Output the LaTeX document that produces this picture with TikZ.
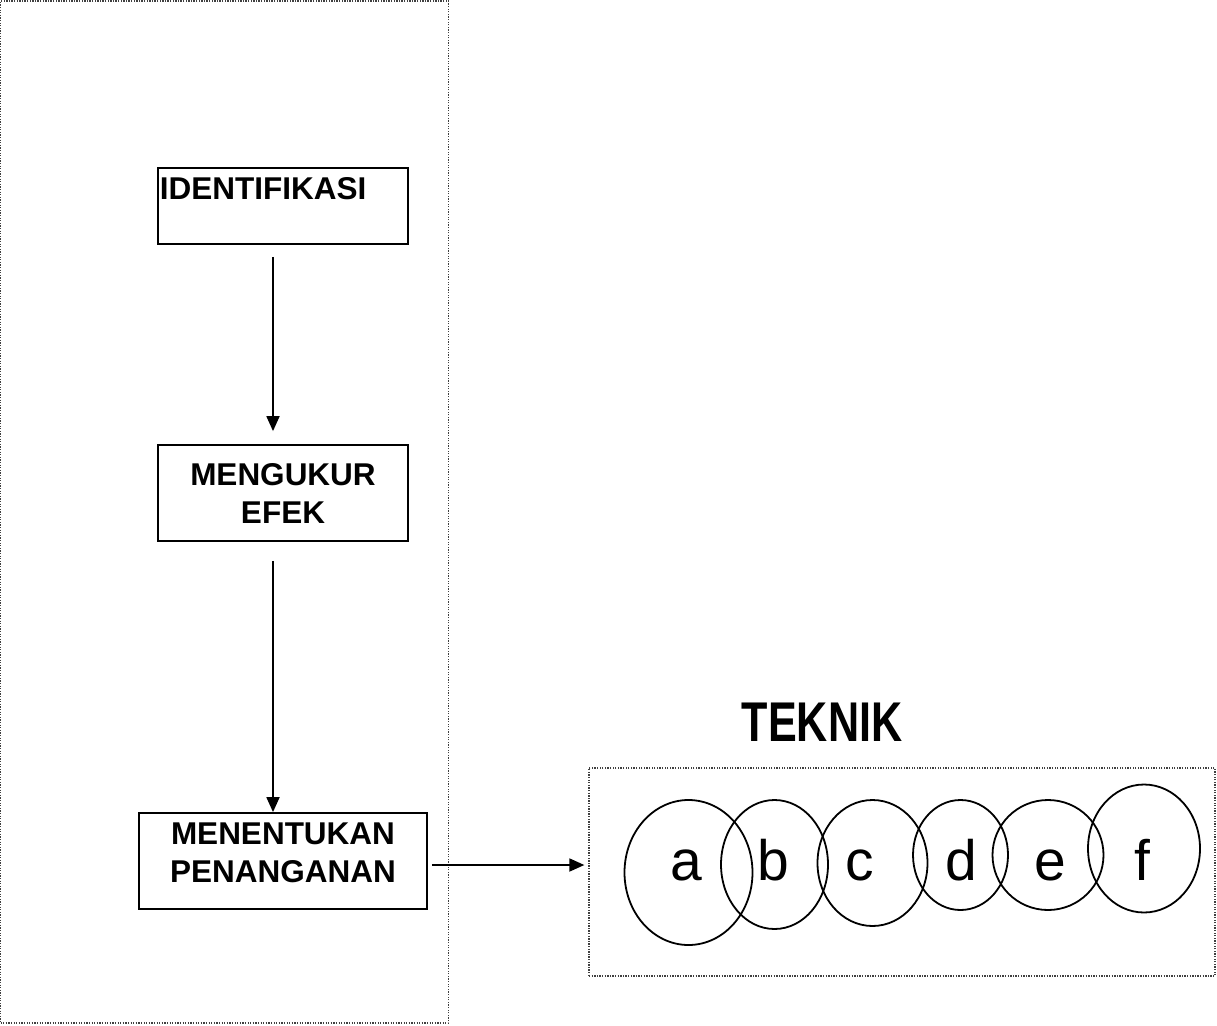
\documentclass[tikz,border=0pt]{standalone}
\usepackage{fontspec}
\usepackage{graphicx}
\setmainfont{Liberation Sans}
\usetikzlibrary{arrows.meta,shapes.geometric}
\begin{document}
\begin{tikzpicture}[x=1pt,y=-1pt,
  box/.style={draw, line width=1.8pt, inner sep=0pt},
  frame/.style={draw=black!75, line width=1.3pt, dash pattern=on 1.3pt off 1.3pt, inner sep=0pt},
  lbl/.style={font=\fontsize{31.5}{38}\selectfont\bfseries, align=center, inner sep=0pt},
  conn/.style={line width=1.8pt, -{Triangle[length=15pt,width=13pt]}},
  oval/.style={draw, ellipse, line width=1.8pt, inner sep=0pt},
  letter/.style={font=\fontsize{57}{60}\selectfont, inner sep=0pt, anchor=base}]
\useasboundingbox (0,0) rectangle (1217,1025);
% frames
\node[frame, minimum width=448pt, minimum height=1022pt] (left) at (224.5,512) {};
\node[frame, minimum width=626pt, minimum height=208pt] (tek) at (902,872) {};
% boxes
\node[box, minimum width=250pt, minimum height=76pt] (m1) at (283,206) {};
\node[lbl, anchor=north west] (t1) at ([xshift=2.5pt,yshift=-10pt]m1.north west) {IDENTIFIKASI};
\node[box, lbl, minimum width=250pt, minimum height=96pt] (m2) at (283,493) {MENGUKUR\\EFEK};
\node[box, minimum width=288pt, minimum height=96pt] (m3) at (283,861) {};
\node[lbl] (t3) at (283,852.5) {MENENTUKAN\\PENANGANAN};
% connectors
\draw[conn, shorten <=12pt, shorten >=13pt] ([xshift=-10pt]m1.south) -- ([xshift=-10pt]m2.north);
\draw[conn, shorten <=19pt] ([xshift=-10pt]m2.south) -- ([xshift=-10pt]m3.north);
\draw[conn, shorten <=4pt, shorten >=4pt] ([yshift=-4pt]m3.east) -- ([yshift=-4pt]m3.east -| tek.west);
% title
\node[font=\fontsize{56}{60}\selectfont\bfseries, inner sep=0pt] (title) at (822,722) {\scalebox{0.77}[1]{TEKNIK}};
% ellipses
\node[oval, minimum width=128pt, minimum height=145pt] (ea) at (688.5,872.5) {};
\node[oval, minimum width=107pt, minimum height=129pt] (eb) at (774.5,864.5) {};
\node[oval, minimum width=110pt, minimum height=126pt] (ec) at (872.5,863) {};
\node[oval, minimum width=95pt, minimum height=110pt] (ed) at (960.5,855) {};
\node[oval, minimum width=111pt, minimum height=110pt] (ee) at (1048,855) {};
\node[oval, minimum width=112pt, minimum height=128pt] (ef) at (1144,848.5) {};
% letters
\node[letter] (la) at (686,880) {a};
\node[letter] (lb) at (773.5,880) {b};
\node[letter] (lc) at (860,880) {c};
\node[letter] (ld) at (961,880) {d};
\node[letter] (le) at (1050.5,880) {e};
\node[letter] (lf) at (1142,880) {f};
\end{tikzpicture}
\end{document}
